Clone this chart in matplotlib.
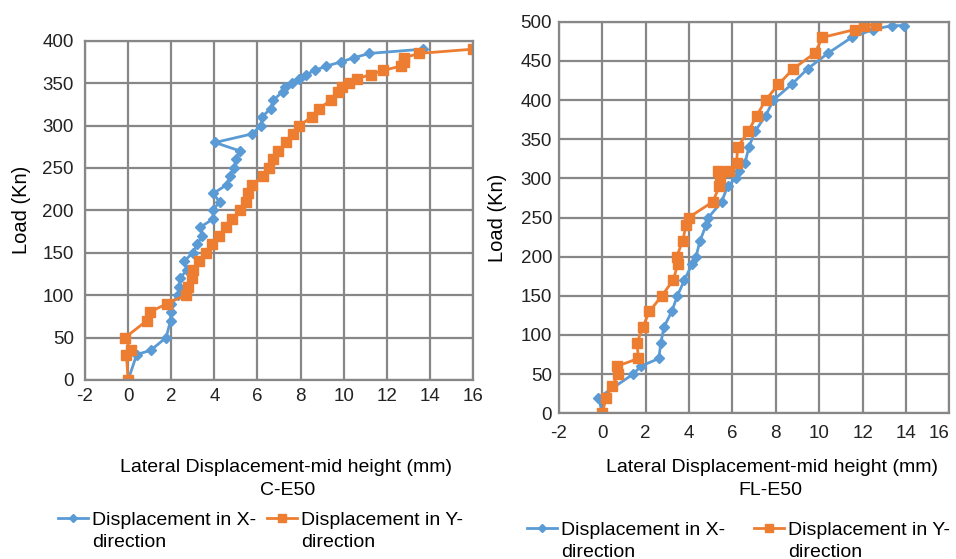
import matplotlib.pyplot as plt
from matplotlib.ticker import MultipleLocator

plt.rcParams['font.family'] = ['Liberation Sans', 'DejaVu Sans']
plt.rcParams['axes.unicode_minus'] = False

# C-E50 (left chart)
ce_load = [0, 30, 35, 50, 70, 80, 90, 100, 110, 120, 130, 140, 150, 160, 170, 180,
           190, 200, 210, 220, 230, 240, 250, 260, 270, 280, 290, 300, 310, 320,
           330, 340, 345, 350, 355, 360, 365, 370, 375, 380, 385, 390]
ce_x = [0, 0.4, 1.05, 1.76, 1.97, 1.98, 2.0, 2.33, 2.35, 2.42, 2.72, 2.6, 3.0, 3.2,
        3.45, 3.34, 3.95, 3.93, 4.24, 3.95, 4.57, 4.73, 4.93, 4.99, 5.19, 4.03, 5.73,
        6.17, 6.21, 6.61, 6.74, 7.17, 7.28, 7.59, 7.93, 8.25, 8.67, 9.18, 9.88, 10.48,
        11.19, 13.66]
ce_y = [0, -0.08, 0.12, -0.14, 0.87, 1.0, 1.8, 2.67, 2.8, 2.95, 3.03, 3.3, 3.6, 3.89,
        4.23, 4.54, 4.84, 5.19, 5.46, 5.58, 5.76, 6.24, 6.55, 6.71, 6.97, 7.33, 7.64,
        7.94, 8.52, 8.86, 9.41, 9.75, 9.91, 10.26, 10.6, 11.25, 11.84, 12.64, 12.81,
        12.81, 13.5, 15.98]

# FL-E50 (right chart)
fl_load_x = [0, 20, 50, 60, 70, 90, 110, 130, 150, 170, 190, 200, 220, 240, 250, 270,
             290, 300, 310, 320, 340, 360, 380, 400, 420, 440, 460, 480, 490, 495, 495]
fl_x = [0, -0.18, 1.42, 1.77, 2.6, 2.7, 2.84, 3.2, 3.46, 3.78, 4.13, 4.32, 4.5, 4.78,
        4.89, 5.5, 5.78, 6.15, 6.32, 6.58, 6.76, 7.04, 7.53, 7.89, 8.73, 9.47, 10.42,
        11.5, 12.5, 13.34, 13.93]
fl_load_y = [0, 20, 35, 50, 60, 70, 90, 110, 130, 150, 170, 190, 200, 220, 240, 250,
             270, 290, 300, 310, 310, 320, 340, 360, 380, 400, 420, 440, 460, 480, 490,
             495, 496]
fl_y = [0, 0.17, 0.46, 0.74, 0.66, 1.66, 1.6, 1.86, 2.17, 2.74, 3.27, 3.47, 3.43, 3.7,
        3.86, 3.98, 5.09, 5.4, 5.43, 5.32, 5.84, 6.19, 6.24, 6.73, 7.12, 7.53, 8.12,
        8.81, 9.8, 10.15, 11.65, 12.08, 12.62]

line1 = ['Displacement in X-', 'Displacement in Y-']
line2 = 'direction'

blue = '#5B9BD5'
orange = '#ED7D31'
grid = '#878787'
W, H = 956, 559

fig = plt.figure(figsize=(9.56, 5.59), dpi=100)
axL = fig.add_axes([85/W, 1-380/H, 388/W, 339.3/H])
axR = fig.add_axes([559/W, 1-413.3/H, 390.3/W, 391.6/H])


def style(ax, ymax, xpad, ypad):
    ax.set_xlim(-2, 16)
    ax.set_ylim(0, ymax)
    ax.xaxis.set_major_locator(MultipleLocator(2))
    ax.yaxis.set_major_locator(MultipleLocator(50))
    ax.grid(True, color=grid, lw=1.6)
    ax.set_axisbelow(True)
    for s in ax.spines.values():
        s.set_color(grid)
        s.set_linewidth(1.6)
    ax.tick_params(length=0, labelsize=13.5, colors='#222222')
    ax.tick_params(axis='x', pad=xpad)
    ax.tick_params(axis='y', pad=ypad)
    ax.set_ylabel('Load (Kn)', fontsize=14.5)


style(axL, 400, 6, 8)
style(axR, 500, 8.5, 5)
axL.yaxis.set_label_coords((31-85)/388, 0.5)
axR.yaxis.set_label_coords((507-559)/390.3, 0.5)

lx, = axL.plot(ce_x, ce_load, color=blue, lw=2, marker='D', ms=5)
ly, = axL.plot(ce_y, ce_load, color=orange, lw=2, marker='s', ms=6.5)
rx, = axR.plot(fl_x, fl_load_x, color=blue, lw=2, marker='D', ms=5)
ry, = axR.plot(fl_y, fl_load_y, color=orange, lw=2, marker='s', ms=6.5)

fs = 14
fig.text(286/W, 1-471.7/H, 'Lateral Displacement-mid height (mm)', ha='center', va='baseline', fontsize=fs)
fig.text(288/W, 1-495/H, 'C-E50', ha='center', va='baseline', fontsize=fs)
fig.text(772.5/W, 1-471.7/H, 'Lateral Displacement-mid height (mm)', ha='center', va='baseline', fontsize=fs)
fig.text(770/W, 1-495/H, 'FL-E50', ha='center', va='baseline', fontsize=fs)

legL = fig.legend([lx, ly], line1, loc='lower left', bbox_to_anchor=(58/W, 1-529/H),
                  ncol=2, frameon=False, fontsize=fs, handlelength=1.55, handletextpad=0.19,
                  columnspacing=0.58, borderaxespad=0, borderpad=0, markerscale=0.8)
legR = fig.legend([rx, ry], line1, loc='lower left', bbox_to_anchor=(527/W, 1-539/H),
                  ncol=2, frameon=False, fontsize=fs, handlelength=1.55, handletextpad=0.19,
                  columnspacing=1.5, borderaxespad=0, borderpad=0, markerscale=0.8)

fig.canvas.draw()
for leg, base in ((legL, 547), (legR, 556.7)):
    for t in leg.get_texts():
        x0 = t.get_window_extent().x0
        fig.text(x0/W, 1-base/H, line2, ha='left', va='baseline', fontsize=fs)

# keep the last "16" inside the picture on the right chart
for t in axR.get_xticklabels():
    if t.get_text() == '16':
        t.set_horizontalalignment('right')
        t.set_x(16.2)

fig.savefig('out.png', dpi=100)
